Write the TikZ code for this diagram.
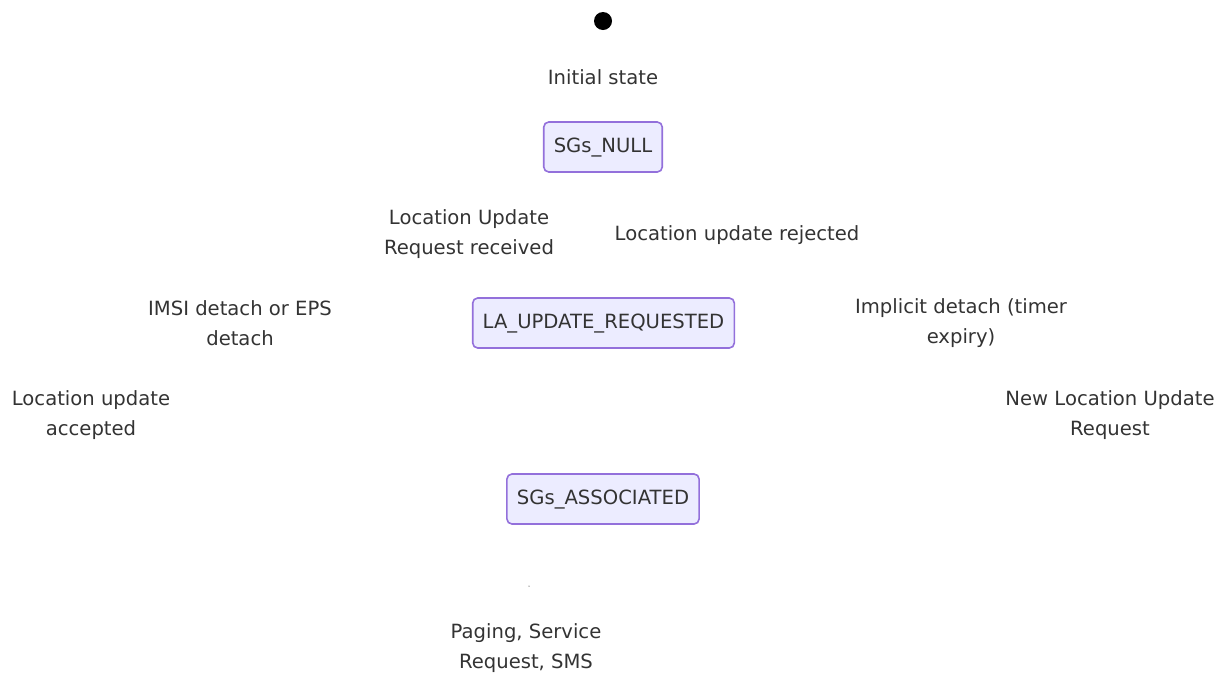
\documentclass[tikz,border=0pt]{standalone}
\usepackage{fontspec}
\setmainfont{DejaVu Sans}
\usetikzlibrary{positioning}
\definecolor{stateFill}{HTML}{ECECFF}
\definecolor{stateLine}{HTML}{9370DB}
\definecolor{labelText}{HTML}{333333}
\tikzset{
  stateBox/.style={
    draw=stateLine,
    fill=stateFill,
    line width=1.6pt,
    rounded corners=5pt,
    minimum height=50pt,
    inner xsep=10pt,
    text height=13pt,
    text depth=2pt,
    text=labelText,
    font=\fontsize{19.6pt}{29.5pt}\selectfont,
  },
  edgeText/.style={
    align=center,
    text=labelText,
    inner sep=0pt,
    yshift=-2pt,
    font=\fontsize{19.6pt}{29.5pt}\selectfont,
  },
  startDot/.style={circle, fill=black, minimum size=18pt, inner sep=0pt},
}

\begin{document}
\begin{tikzpicture}[x=1pt, y=-1pt]
  \useasboundingbox (0,0) rectangle (1225,673);

  % --- states ---
  \node[startDot] (start) at (603,21) {};
  \node[stateBox] (sgsNull) at (603,147) {SGs\_NULL};
  \node[stateBox] (laReq) at (603.5,323) {LA\_UPDATE\_REQUESTED};
  \node[stateBox] (sgsAssoc) at (603,499) {SGs\_ASSOCIATED};

  % --- transition labels ---
  \node[edgeText] (lblInit) at (603,75) {Initial state};
  \node[edgeText] (lblLuReq) at (469,232) {Location Update\\Request received};
  \node[edgeText] (lblLuRej) at (737,233) {Location update rejected};
  \node[edgeText] (lblImsi) at (240,321) {IMSI detach or EPS\\detach};
  \node[edgeText] (lblImplicit) at (961,321) {Implicit detach (timer\\expiry)};
  \node[edgeText] (lblLuAcc) at (91,413) {Location update\\accepted};
  \node[edgeText] (lblNewLu) at (1110,413) {New Location Update\\Request};
  \node[edgeText] (lblPaging) at (526,646) {Paging, Service\\Request, SMS};

  % stray point left by the self loop
  \fill[black] (529,586) circle (0.5pt);
\end{tikzpicture}
\end{document}
